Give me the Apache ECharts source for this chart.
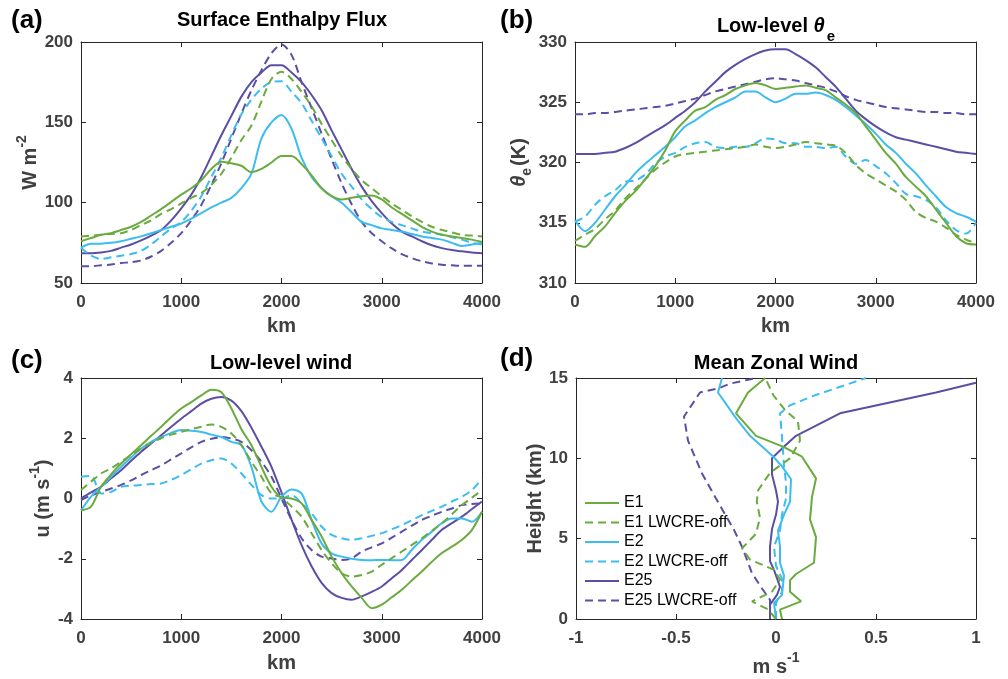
<!DOCTYPE html>
<html>
<head>
<meta charset="utf-8">
<script src="https://cdn.jsdelivr.net/npm/echarts@6/dist/echarts.min.js"></script>
<style>html,body{margin:0;padding:0;background:#fff;}#c{width:1008px;height:679px;}</style>
</head>
<body>
<div id="c"></div>
<script>
// ---------- DATA ----------
const xKm = [0,100,200,300,400,500,600,700,800,900,1000,1100,1200,1300,1400,1500,1600,1700,1800,1900,2000,
  2100,2200,2300,2400,2500,2600,2700,2800,2900,3000,3100,3200,3300,3400,3500,3600,3700,3800,3900,4000];

// (a) Surface enthalpy flux (W m-2)
const fluxE1 = [76,78,80,81,83,85,88,92,96,100.5,105,109,114,121,125.5,124.5,123,119,121,125,129,129,124,117,109,104,102,103,104,104.5,102,97,93,89,85,82,80,79,78,77,75.5];
const fluxE1off = [79,79.5,80,80.5,81,83,86,89,93,96,99.5,103,106,111,118,128,139,148,163,177,181.5,177,169,160,149,139,129,121,114,109,104,99.5,95.5,91.5,88,85,83,81.5,80,79.5,79];
const fluxE2 = [72,74.5,74.5,75,76,77.5,79,81,83,85,87,90,93.5,97,100,103,109,118,140,150,154.5,146,128,116,109,104,100,94,88,86,84,83,82,80.5,79,78,77,75,73,74,75];
const fluxE2off = [72,67,65,66,67,68,70,74,79,84,88,95,104,116,128,142,155,164,171,175,175.5,169,162,151,140,129,118,110,102,96,91,88,86,84,82,81,80,78.5,77,75,74];
const fluxE25 = [68.5,68.5,69,70,72,74,76.5,79.5,83,89,96.5,105,116,129,142,154,166,175,181,185.5,185.5,181,175,167,157.5,145,133,121,110,101,93.5,87,82,79,76,73.5,71.7,70.5,69.7,69,68.5];
const fluxE25off = [60.5,60.5,61,61.5,62.4,63,64,66.5,70,75,81,89,98.6,111,124.5,140,155.5,170,182.4,193,198.5,192,175,159,143,127,112,99,88,81,76,71.5,68,65.5,63.5,62.2,61.4,61,60.7,60.7,60.7];

// (b) Low-level theta_e (K)
const thE1 = [313.2,313.0,313.9,314.7,315.8,316.8,317.6,318.6,319.7,321.0,322.6,323.5,324.3,324.6,325.2,325.6,326.1,326.4,326.6,326.4,326.1,326.2,326.3,326.4,326.2,326.0,325.4,324.8,324.1,323.0,321.9,320.8,319.9,318.8,318.0,317.2,316.1,315.0,313.9,313.3,313.2];
const thE1off = [313.5,314.0,314.5,315.3,316.0,317.0,317.8,318.6,319.4,320.0,320.5,320.7,320.8,320.9,321.0,321.1,321.2,321.3,321.5,321.3,321.2,321.3,321.5,321.7,321.6,321.5,321.4,320.8,319.8,319.1,318.6,318.1,317.6,316.9,315.9,315.4,315.1,314.6,314.0,313.6,313.3];
const thE2 = [315.2,314.3,315.0,316.1,317.2,318.1,319.1,319.9,320.6,321.3,322.1,323.0,323.5,324.1,324.6,325.0,325.4,325.9,325.9,325.4,325.0,325.3,325.7,325.7,325.8,325.6,325.2,324.6,323.9,323.2,322.4,321.5,320.8,319.9,319.1,318.1,317.2,316.3,315.8,315.5,315.1];
const thE2off = [315.1,315.5,316.5,317.2,317.7,318.4,318.5,319.0,319.9,320.5,320.8,321.3,321.6,321.7,321.3,321.2,321.3,321.3,321.6,322.0,321.9,321.6,321.6,321.3,321.3,321.2,321.3,320.5,319.9,320.2,319.7,319.1,318.3,317.4,317.2,316.9,316.3,315.2,314.4,314.1,315.0];
const thE25 = [320.7,320.7,320.7,320.8,320.9,321.2,321.6,322.1,322.6,323.1,323.7,324.3,325.0,325.9,326.7,327.5,328.1,328.6,329.0,329.3,329.4,329.4,329.0,328.5,327.9,327.1,326.3,325.3,324.3,323.6,323.0,322.5,322.1,321.9,321.7,321.5,321.3,321.1,320.9,320.8,320.7];
const thE25off = [324.0,324.0,324.1,324.1,324.2,324.3,324.4,324.5,324.6,324.7,324.9,325.1,325.3,325.6,325.9,326.1,326.3,326.5,326.7,326.9,327.0,326.9,326.8,326.6,326.4,326.2,325.9,325.5,325.2,325.0,324.8,324.6,324.5,324.4,324.3,324.2,324.2,324.1,324.1,324.0,324.0];

// (c) Low-level wind u (m s-1)
const uE1 = [-0.4,-0.27,0.39,0.8,1.16,1.47,1.77,2.08,2.38,2.7,2.99,3.2,3.42,3.61,3.53,2.99,2.3,1.77,1.05,0.39,0.03,0.0,-0.16,-0.71,-1.26,-1.93,-2.48,-2.92,-3.3,-3.64,-3.52,-3.28,-3.03,-2.72,-2.42,-2.1,-1.81,-1.6,-1.37,-1.04,-0.44];
const uE1off = [0.28,0.56,0.83,1.0,1.22,1.44,1.66,1.85,2.0,2.12,2.21,2.3,2.38,2.46,2.38,2.16,1.77,1.22,0.72,0.17,0.03,-0.27,-0.6,-1.15,-1.71,-2.15,-2.48,-2.59,-2.54,-2.43,-2.2,-1.98,-1.76,-1.54,-1.32,-1.07,-0.82,-0.52,-0.22,0.03,0.28];
const uE2 = [-0.4,0.06,0.39,0.72,1.05,1.36,1.66,1.88,2.04,2.18,2.27,2.25,2.21,2.12,2.04,1.88,1.77,1.05,-0.1,-0.44,0.06,0.3,0.17,-0.71,-1.49,-1.82,-1.93,-2.0,-2.04,-2.05,-2.04,-2.05,-2.04,-1.7,-1.37,-1.1,-0.82,-0.66,-0.66,-0.77,-0.44];
const uE2off = [0.72,0.75,0.17,0.22,0.39,0.42,0.45,0.48,0.5,0.62,0.78,0.97,1.16,1.27,1.33,1.16,0.83,0.45,0.11,0.0,0.0,0.11,-0.16,-0.49,-0.93,-1.21,-1.32,-1.37,-1.32,-1.24,-1.15,-1.02,-0.88,-0.72,-0.55,-0.41,-0.27,-0.1,0.06,0.28,0.67];
const uE25 = [0.0,0.2,0.39,0.67,0.94,1.25,1.55,1.83,2.1,2.38,2.65,2.9,3.15,3.31,3.37,3.25,2.9,2.35,1.72,1.05,0.2,-0.7,-1.55,-2.25,-2.8,-3.14,-3.3,-3.36,-3.25,-3.1,-2.92,-2.65,-2.37,-2.04,-1.71,-1.37,-1.04,-0.82,-0.6,-0.35,-0.1];
const uE25off = [-0.05,0.1,0.22,0.33,0.45,0.6,0.78,0.94,1.1,1.3,1.5,1.7,1.88,1.98,2.04,1.99,1.88,1.6,1.22,0.72,0.0,-0.71,-1.32,-1.71,-1.93,-1.99,-2.04,-1.99,-1.76,-1.62,-1.49,-1.3,-1.1,-0.9,-0.71,-0.57,-0.44,-0.33,-0.22,-0.18,-0.16];

// (d) Mean zonal wind profiles: height (km) and u (m s-1)
const zE1 = [0,0.58,1.1,1.7,2.4,2.8,3.5,5.1,6.2,7.6,8.75,10.1,10.7,11.4,12.8,14.1,15];
const mE1 = [0.03,0.02,0.125,0.07,0.07,0.1,0.19,0.2,0.17,0.18,0.2,0.13,0.04,-0.1,-0.2,-0.14,-0.054];
const zE1off = [0,0.6,1.1,1.7,2.45,3.06,3.7,4.4,5.3,6.3,7.3,8.0,9.1,10.0,11.1,12.3,13.0,13.9,15];
const mE1off = [0.0,-0.04,-0.12,-0.02,0.02,-0.01,-0.13,-0.17,-0.1,-0.08,-0.096,-0.09,-0.03,0.07,0.12,0.11,0.046,-0.012,-0.054];
const zE2 = [0,1.0,1.5,2.7,3.5,4.5,5.5,6.5,7.3,8.7,9.5,10.1,11.4,12.5,14.1,15];
const mE2 = [0.0,-0.01,0.03,0.04,0.02,0.02,0.01,0.04,0.07,0.075,0.03,-0.013,-0.13,-0.2,-0.29,-0.27];
const zE2off = [0,1.0,1.7,2.5,3.3,4.5,5.5,6.5,7.5,8.5,9.5,10.5,11.3,12.8,13.3,13.9,14.6,15];
const mE2off = [0.0,0.0,0.03,0.03,0.0,-0.01,0.02,0.03,0.05,0.05,0.04,0.035,0.03,0.02,0.07,0.19,0.355,0.45];
const zE25 = [0,0.9,1.5,2.0,3.06,3.6,4.5,5.6,6.5,7.3,8.0,9.0,10.0,10.8,11.4,12.8,14.1,14.7];
const mE25 = [-0.03,-0.03,0.005,0.02,-0.01,-0.03,-0.03,-0.02,0.0,0.01,0.0,-0.02,-0.02,0.046,0.1,0.32,0.8,1.0];
const zE25off = [0,1.2,1.9,2.85,4.5,5.55,7.5,9.06,11.1,12.6,14.1,14.35,14.65,15];
const mE25off = [-0.03,-0.03,-0.07,-0.12,-0.17,-0.21,-0.3,-0.37,-0.44,-0.46,-0.38,-0.29,-0.23,-0.1];

const names = ['E1','E1 LWCRE-off','E2','E2 LWCRE-off','E25','E25 LWCRE-off'];

// ---------- STYLE ----------
const C_GREEN = '#6AAB3E', C_CYAN = '#3DBDEF', C_PURPLE = '#5A4FA4';
const colors = [C_GREEN, C_GREEN, C_CYAN, C_CYAN, C_PURPLE, C_PURPLE];
const dashed = [false, true, false, true, false, true];
const FONT = "'Liberation Sans', Arial, Helvetica, sans-serif";
const AX = '#262626', LBL = '#404040';

const grids = [
  {left: 81, top: 42, width: 401, height: 241},
  {left: 575, top: 42, width: 401, height: 241},
  {left: 81, top: 378, width: 401, height: 241},
  {left: 576, top: 378, width: 400, height: 241}
];

function mkAxis(type, gi, pos, min, max, interval, show, extra) {
  const a = {
    type: 'value', gridIndex: gi, position: pos, min, max, interval,
    axisLine: {show: true, onZero: false, lineStyle: {color: AX, width: 1}},
    axisTick: {show: true, inside: true, length: 5, lineStyle: {color: AX, width: 1}},
    splitLine: {show: false},
    axisLabel: {show: show, color: LBL, fontFamily: FONT, fontWeight: 'bold', fontSize: 17,
      margin: type === 'x' ? 11 : 8, formatter: v => String(v)}
  };
  return Object.assign(a, extra || {});
}

const supRich = {
  b: {color: LBL, fontFamily: FONT, fontWeight: 'bold', fontSize: 20, lineHeight: 26, verticalAlign: 'bottom'},
  sup: {color: LBL, fontFamily: FONT, fontWeight: 'bold', fontSize: 14, lineHeight: 26, verticalAlign: 'top'},
  th: {color: LBL, fontFamily: FONT, fontStyle: 'italic', fontSize: 20, lineHeight: 26, verticalAlign: 'bottom'},
  sub: {color: LBL, fontFamily: FONT, fontSize: 14, lineHeight: 26, verticalAlign: 'bottom', padding: [0,2,-5,0]}
};

const xAxes = [], yAxes = [];
const xr = [[0,4000,1000],[0,4000,1000],[0,4000,1000],[-1,1,0.5]];
const yr = [[50,200,50],[310,330,5],[-4,4,2],[0,15,5]];
const xNames = ['{b|km}','{b|km}','{b|km}','{b|m s}{sup|-1}'];
const yNames = ['{b|W m}{sup|-2}','{th|θ}{sub|e}{b|(K)}','{b|u (m s}{sup|-1}{b|)}','{b|Height (km)}'];
const xGaps = [27, 27, 28, 32];
const yGaps = [40, 46, 26, 30];
for (let g = 0; g < 4; g++) {
  xAxes.push(mkAxis('x', g, 'bottom', xr[g][0], xr[g][1], xr[g][2], true, {
    name: xNames[g], nameLocation: 'middle', nameGap: xGaps[g],
    nameTextStyle: {color: LBL, fontFamily: FONT, fontWeight: 'bold', fontSize: 20, rich: supRich}
  }));
  xAxes.push(mkAxis('x', g, 'top', xr[g][0], xr[g][1], xr[g][2], false));
  yAxes.push(mkAxis('y', g, 'left', yr[g][0], yr[g][1], yr[g][2], true, {
    name: yNames[g], nameLocation: 'middle', nameGap: yGaps[g],
    nameTextStyle: {color: LBL, fontFamily: FONT, fontWeight: 'bold', fontSize: 20, rich: supRich}
  }));
  yAxes.push(mkAxis('y', g, 'right', yr[g][0], yr[g][1], yr[g][2], false));
}

function pairs(xs, ys) { return xs.map((x, i) => [x, ys[i]]); }

const panelData = [
  [fluxE1, fluxE1off, fluxE2, fluxE2off, fluxE25, fluxE25off],
  [thE1, thE1off, thE2, thE2off, thE25, thE25off],
  [uE1, uE1off, uE2, uE2off, uE25, uE25off]
];
const profU = [mE1, mE1off, mE2, mE2off, mE25, mE25off];
const profZ = [zE1, zE1off, zE2, zE2off, zE25, zE25off];

const series = [];
function addSeries(g, k, data, smooth) {
  series.push({
    type: 'line', name: names[k], xAxisIndex: g * 2, yAxisIndex: g * 2,
    data: data, symbol: 'none', showSymbol: false, smooth: smooth, animation: false,
    lineStyle: {color: colors[k], width: 2, type: dashed[k] ? [8, 5] : 'solid'},
    itemStyle: {color: colors[k]}, z: 10 - k
  });
}
for (let g = 0; g < 3; g++) {
  for (let k = 0; k < 6; k++) addSeries(g, k, pairs(xKm, panelData[g][k]), 0.3);
}
for (let k = 0; k < 6; k++) addSeries(3, k, pairs(profU[k], profZ[k]), false);

const titleStyle = {fill: '#000', fontFamily: FONT, fontWeight: 'bold', fontSize: 20, align: 'center', verticalAlign: 'middle'};
const letterStyle = {fill: '#000', fontFamily: FONT, fontWeight: 'bold', fontSize: 26, align: 'left', verticalAlign: 'middle'};

const graphic = [
  {type: 'text', x: 11, y: 21, style: Object.assign({text: '(a)'}, letterStyle)},
  {type: 'text', x: 500, y: 21, style: Object.assign({text: '(b)'}, letterStyle)},
  {type: 'text', x: 11, y: 361, style: Object.assign({text: '(c)'}, letterStyle)},
  {type: 'text', x: 500, y: 359, style: Object.assign({text: '(d)'}, letterStyle)},
  {type: 'text', x: 282, y: 20, style: Object.assign({text: 'Surface Enthalpy Flux'}, titleStyle)},
  {type: 'text', x: 776, y: 22, style: Object.assign({}, titleStyle, {
    text: '{b|Low-level }{th|θ}{sub|e}',
    rich: {
      b: {fill: '#000', fontFamily: FONT, fontWeight: 'bold', fontSize: 20, lineHeight: 28, verticalAlign: 'bottom'},
      th: {fill: '#000', fontFamily: FONT, fontWeight: 'bold', fontStyle: 'italic', fontSize: 20, lineHeight: 28, verticalAlign: 'bottom'},
      sub: {fill: '#000', fontFamily: FONT, fontWeight: 'bold', fontSize: 15, lineHeight: 28, verticalAlign: 'bottom', padding: [0,0,-8,2]}
    }
  })},
  {type: 'text', x: 281, y: 363, style: Object.assign({text: 'Low-level wind'}, titleStyle)},
  {type: 'text', x: 776, y: 363, style: Object.assign({text: 'Mean Zonal Wind'}, titleStyle)}
];

const chart = echarts.init(document.getElementById('c'), null, {renderer: 'canvas'});
chart.setOption({
  backgroundColor: '#fff',
  animation: false,
  grid: grids,
  xAxis: xAxes,
  yAxis: yAxes,
  legend: {
    data: names, orient: 'vertical', left: 584, top: 495, padding: 0,
    itemWidth: 34, itemHeight: 12, itemGap: 3.5, selectedMode: false,
    itemStyle: {opacity: 0},
    textStyle: {color: '#000', fontFamily: FONT, fontSize: 16, lineHeight: 12, padding: [0, 0, 0, 0]}
  },
  series: series,
  graphic: graphic
});
</script>
</body>
</html>
